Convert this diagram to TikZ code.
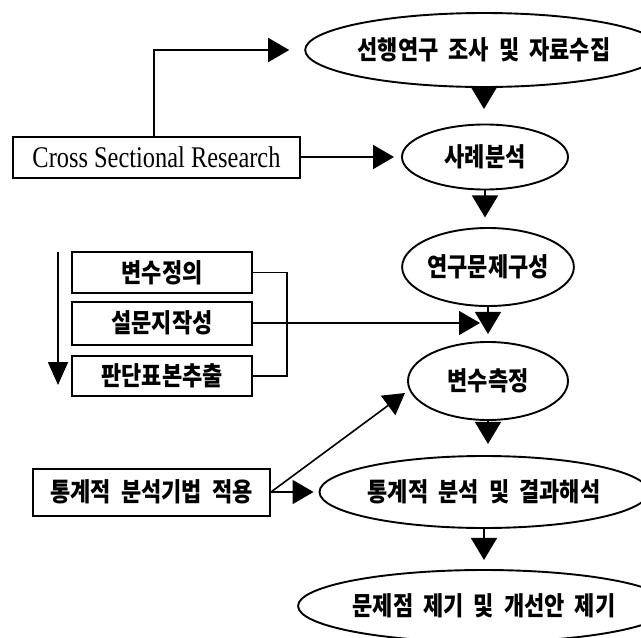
\documentclass[tikz,border=0pt]{standalone}
\usepackage{fontspec}
\usepackage{graphicx}
\setmainfont{Liberation Serif}
\newfontfamily\kr[WordSpace=2]{Noto Sans CJK KR}
\usetikzlibrary{shapes.geometric,arrows.meta,calc}
\newcommand\kt[1]{\scalebox{1}[1.18]{#1}}
\newcommand\lt[1]{\scalebox{1}[1.23]{#1}}
\begin{document}
\begin{tikzpicture}[x=1pt,y=-1pt,
  box/.style={draw, line width=2pt, rectangle, inner sep=0pt},
  oval/.style={draw, line width=1.9pt, ellipse, inner sep=0pt},
  ln/.style={line width=1.6pt},
  harr/.style={ln, -{Triangle[length=21pt,width=24pt]}},
  varr/.style={ln, -{Triangle[length=22pt,width=26pt]}},
  larr/.style={ln, -{Triangle[length=23pt,width=20pt]}},
  krt/.style={font=\kr\bfseries\fontsize{22}{26}\selectfont},
  ltt/.style={font=\fontsize{24.4}{28}\selectfont},
]
\useasboundingbox (0,0) rectangle (641,638);
\fill[white] (0,0) rectangle (641,638);

% ellipses
\node[oval, minimum width=312pt, minimum height=74pt, krt] (e1) at (484,50) {\kt{선행연구 조사 및 자료수집}};
\node[oval, minimum width=166pt, minimum height=65pt, krt] (e2) at (485,157) {\kt{사례분석}};
\node[oval, minimum width=160pt, minimum height=78pt, krt] (e3) at (488,267) {\kt{연구문제구성}};
\node[oval, minimum width=160pt, minimum height=78pt, krt] (e4) at (488,381) {\kt{변수측정}};
\node[oval, minimum width=312pt, minimum height=72pt, krt] (e5) at (484,492) {\kt{통계적 분석 및 결과해석}};
\node[oval, minimum width=312pt, minimum height=72pt, krt] (e6) at (484,606) {\kt{문제점 제기 및 개선안 제기}};

% boxes
\node[box, minimum width=287pt, minimum height=41pt, ltt] (csr) at (156.5,157) {\lt{Cross Sectional Research}};
\node[box, minimum width=180pt, minimum height=41pt, krt] (b1) at (162,272.5) {\kt{변수정의}};
\node[box, minimum width=180pt, minimum height=43pt, krt] (b2) at (162,323) {\kt{설문지작성}};
\node[box, minimum width=180pt, minimum height=40pt, krt] (b3) at (162,376) {\kt{판단표본추출}};
\node[box, minimum width=237pt, minimum height=47pt, krt] (stat) at (151.5,492) {\kt{통계적 분석기법 적용}};

% down triangles between ellipses
\coordinate (t1) at ($(e1.south)+(0,21)$);
\coordinate (t2) at ($(e2.south)+(0,27)$);
\coordinate (t3) at ($(e3.south)+(0,27)$);
\coordinate (t4) at ($(e4.south)+(0,23)$);
\coordinate (t5) at ($(e5.south)+(0,31)$);
\draw[varr] (e1.south) -- (t1);
\draw[varr] (e2.south) -- (t2);
\draw[varr] (e3.south) -- (t3);
\draw[varr] (e4.south) -- (t4);
\draw[varr] (e5.south) -- (t5);

% CSR connectors
\draw[harr] ([xshift=-2.5pt]csr.north) |- ([xshift=-15pt]e1.west);
\draw[harr] (csr.east) -- ([xshift=-7pt]e2.west);

% left process arrow
\coordinate (la1) at (58,252);
\coordinate (la2) at (58,385);
\draw[larr] (la1) -- (la2);

% bracket and arrow to the flow
\coordinate (brk) at (287,323);
\draw[ln] (b1.east) -| (brk) |- (b3.east);
\coordinate (rt) at (480,323);
\draw[harr] (b2.east) -- (rt);

% statistics connectors
\coordinate (dg) at (405,393);
\draw[harr] (stat.east) -- (dg);
\draw[harr] (stat.east) -- ([xshift=-5pt]e5.west);
\end{tikzpicture}
\end{document}
